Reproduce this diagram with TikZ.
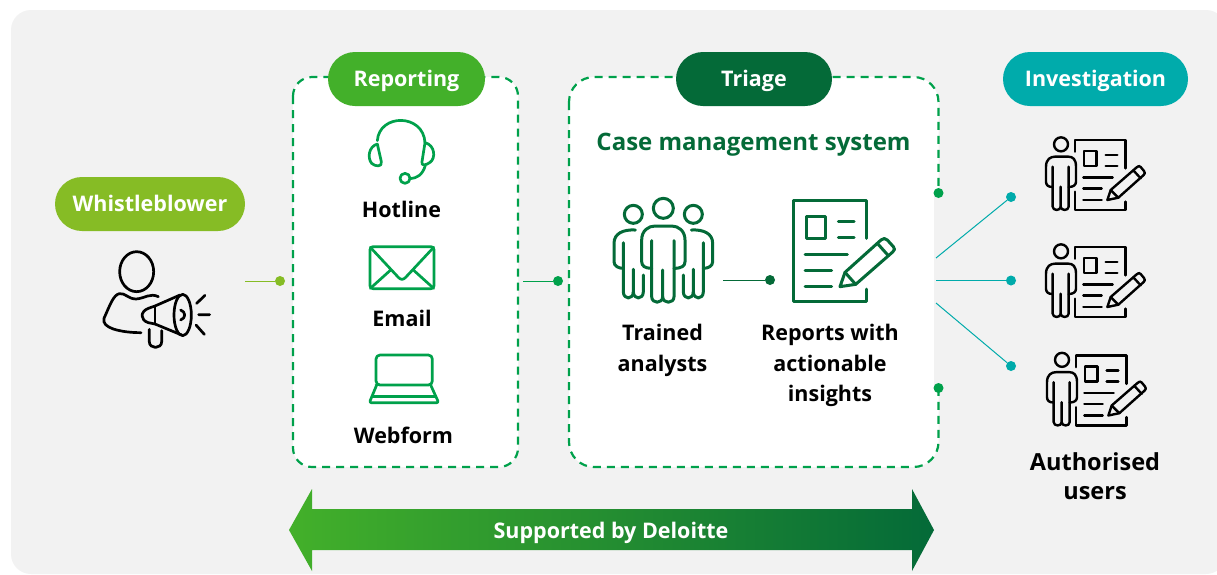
\documentclass[tikz,border=0pt]{standalone}
\usepackage{fontspec}
\setmainfont{Open Sans}
\usetikzlibrary{calc}
\definecolor{bggrey}{HTML}{F2F2F2}
\definecolor{lime}{HTML}{86BC25}
\definecolor{midgreen}{HTML}{43B02A}
\definecolor{darkgreen}{HTML}{046A38}
\definecolor{dashgreen}{HTML}{00A14B}
\definecolor{tealc}{HTML}{00ABAB}
\tikzset{
 x=1pt,y=-1pt,
 pill/.style={draw=none,rounded corners=27pt,minimum height=54pt,inner sep=0pt,text=white,text height=18pt,text depth=4pt,font=\fontsize{21.5}{25}\selectfont\bfseries},
 label/.style={inner sep=0pt,align=center,text=black,font=\fontsize{21.5}{30.5}\selectfont\bfseries},
 panel/.style={draw=dashgreen,fill=white,line width=2.2pt,dash pattern=on 8pt off 6pt},
 dotn/.style={circle,inner sep=0pt,minimum size=10pt,fill=#1,draw=none},
 wire/.style={draw=#1,line width=1pt},
 ico/.style={line width=#1,line cap=round,line join=round},
 zoomed/.style={x=0.33333pt,y=-0.33333pt},
}
% small user + document icon, zoom coordinates
\newcommand{\userdoc}[2]{%
\begin{scope}[shift={(#1,#2)},zoomed,draw=black,ico=2.4pt]
 \draw (423,58) circle[radius=21];
 \draw (398,125)--(398,245) .. controls (398,258) and (422,258) .. (422,245)--(422,185);
 \draw (422,245) .. controls (422,258) and (446,258) .. (446,245)--(446,125);
 \draw (398,186) .. controls (384,186) and (378,180) .. (378,170)--(378,125) .. controls (378,102) and (392,95) .. (405,95)--(445,95) .. controls (458,95) and (468,102) .. (468,125)--(468,170) .. controls (468,180) and (460,186) .. (446,186);
 \draw (465,80)--(465,45)--(617,45)--(617,130);
 \draw (617,230)--(617,255)--(465,255)--(465,200);
 \draw (492,78) rectangle (530,123);
 \draw (557,90)--(592,90) (557,123)--(592,123) (490,157)--(578,157) (490,190)--(545,190) (490,225)--(545,225);
 \draw (562,225)--(572,195)--(650,127) .. controls (656,122) and (658,122) .. (662,126)--(672,138) .. controls (676,143) and (675,146) .. (671,150)--(595,218)--cycle;
 \draw (572,195)--(595,218) (640,136)--(662,160);
\end{scope}}
\begin{document}
\begin{tikzpicture}
\useasboundingbox (0,0) rectangle (1217,574);
\fill[white] (0,0) rectangle (1217,574);
\begin{scope}
\clip (0,0) rectangle (1217,574);
\fill[bggrey,rounded corners=20pt] (11,10) rectangle (1226,574);
\end{scope}

% panels
\draw[panel,rounded corners=19pt] (293,77) rectangle (518,467);
\draw[panel,rounded corners=25pt] (569,77) rectangle (938.5,467);
\fill[bggrey,rounded corners=4pt] (934,191) rectangle (950,389);

% pills
\node[pill,fill=lime,minimum width=190pt] (whistle) at (150,204) {Whistleblower};
\node[pill,fill=midgreen,minimum width=157pt] (reporting) at (406.5,79) {Reporting};
\node[pill,fill=darkgreen,minimum width=156pt] (triage) at (754,79) {Triage};
\node[pill,fill=tealc,minimum width=185pt] (invest) at (1095.5,79) {Investigation};

% labels
\node[label] (hotline) at (401.5,209.5) {Hotline};
\node[label] (email) at (402,318.5) {Email};
\node[label] (webform) at (403.5,435.5) {Webform};
\node[label,text=darkgreen,font=\fontsize{24}{30}\selectfont\bfseries] (cms) at (753.5,145) {Case management system};
\node[label] (analysts) at (662.5,350.5) {Trained\\analysts};
\node[label] (reports) at (830,365.5) {Reports with\\actionable\\insights};
\node[label,font=\fontsize{23.5}{29.5}\selectfont\bfseries] (users) at (1095,476) {Authorised\\users};

% whistleblower icon
\begin{scope}[shift={(60,170)},zoomed,draw=black,ico=2.7pt]
 \draw (230,305) ellipse[x radius=51,y radius=60];
 \draw (295,380) .. controls (270,368) and (255,385) .. (228,387) .. controls (205,387) and (195,368) .. (178,371) .. controls (160,375) and (150,405) .. (132,445) .. controls (128,460) and (140,470) .. (160,477) .. controls (185,485) and (215,488) .. (243,488);
 \draw (268,478)--(268,515) .. controls (268,538) and (305,538) .. (305,515)--(305,482);
 \draw (285,408)--(285,462);
 \draw (360,375)--(285,408)--(265,415) .. controls (240,425) and (240,450) .. (265,458)--(285,462)--(365,495);
 \draw (368,435) ellipse[x radius=26,y radius=62];
 \draw (362,420) .. controls (378,425) and (378,445) .. (362,450);
 \draw (410,400)--(435,376) (416,434)--(449,434) (408,465)--(433,493);
\end{scope}

% headset
\begin{scope}[shift={(290,50)},zoomed,draw=dashgreen,ico=2.7pt]
 \draw (262,272) .. controls (268,190) and (400,190) .. (405,278);
 \draw (262,282) .. controls (235,290) and (232,325) .. (245,340) .. controls (255,350) and (278,352) .. (274,335)--cycle;
 \draw (405,278) .. controls (435,285) and (438,325) .. (420,337) .. controls (410,345) and (392,350) .. (396,335)--cycle;
 \draw (406,346) .. controls (398,375) and (380,385) .. (360,386);
 \draw (345,385) circle[radius=15];
\end{scope}
% envelope
\begin{scope}[shift={(290,50)},zoomed,draw=dashgreen,ico=2.7pt]
 \draw[rounded corners=3pt] (240,590) rectangle (432,716);
 \draw (241,592)--(325,682) .. controls (332,690) and (340,690) .. (347,682)--(431,592);
 \draw (241,715)--(302,660) (431,715)--(370,660);
\end{scope}
% laptop
\begin{scope}[shift={(290,270)},zoomed,draw=dashgreen,ico=2.7pt]
 \draw[rounded corners=4pt] (258,255) rectangle (427,345);
 \draw (258,345)--(422,345);
 \draw[rounded corners=2pt] (260,345)--(238,398)--(446,398)--(422,345);
 \draw (247,380)--(437,380);
\end{scope}

% analysts
\begin{scope}[shift={(600,190)},zoomed,draw=darkgreen,ico=3pt]
 \draw (100,73) circle[radius=27] (190,55) circle[radius=30] (280,73) circle[radius=27];
 % centre
 \draw (155,152)--(155,320) .. controls (155,342) and (188,342) .. (188,320)--(188,240);
 \draw (188,320) .. controls (188,342) and (222,342) .. (222,320)--(222,152);
 \draw (155,235) .. controls (135,235) and (125,228) .. (125,215)--(125,150) .. controls (125,122) and (145,108) .. (165,108)--(215,108) .. controls (235,108) and (255,122) .. (255,150)--(255,215) .. controls (255,228) and (245,235) .. (222,235);
 % left
 \draw (106,120) .. controls (70,118) and (42,130) .. (42,160)--(42,215) .. controls (42,228) and (55,235) .. (70,235);
 \draw (70,158)--(70,305) .. controls (70,330) and (100,330) .. (100,305)--(100,238);
 \draw (100,305) .. controls (100,330) and (130,330) .. (130,305)--(130,255);
 % right
 \draw (274,120) .. controls (310,118) and (338,130) .. (338,160)--(338,215) .. controls (338,228) and (325,235) .. (310,235);
 \draw (310,158)--(310,305) .. controls (310,330) and (280,330) .. (280,305)--(280,238);
 \draw (280,305) .. controls (280,330) and (250,330) .. (250,305)--(250,255);
\end{scope}
% report icon
\begin{scope}[shift={(600,190)},zoomed,draw=darkgreen,ico=3pt]
 \draw (800,145)--(800,32)--(580,32)--(580,335)--(800,335)--(800,297);
 \draw (618,78) rectangle (675,145);
 \draw (715,95)--(762,95) (715,143)--(762,143) (615,192)--(742,192) (615,242)--(695,242) (615,290)--(695,290);
 \draw (720,290)--(735,247)--(843,150) .. controls (850,144) and (856,144) .. (862,150)--(880,170) .. controls (885,176) and (885,180) .. (878,186)--(767,283)--cycle;
 \draw (735,247)--(767,283) (832,160)--(865,197);
\end{scope}

% authorised users
\userdoc{920}{125}
\userdoc{920}{232}
\userdoc{921}{340.5}

% connectors
\node[dotn=lime] (d1) at (280,281) {};
\coordinate (c1) at (245,281);
\draw[wire=lime] (c1)--(d1);
\node[dotn=dashgreen] (d2) at (558,281) {};
\coordinate (c2) at (523,281);
\draw[wire=dashgreen] (c2)--(d2);
\node[dotn=darkgreen] (d3) at (770,280) {};
\coordinate (c3) at (723,280);
\draw[wire=darkgreen] (c3)--(d3);
\node[dotn=dashgreen] (g1) at (938.5,193) {};
\node[dotn=dashgreen] (g2) at (938.5,388) {};
\node[dotn=tealc] (t1) at (1011,197) {};
\node[dotn=tealc] (t2) at (1011,280.5) {};
\node[dotn=tealc] (t3) at (1011,366) {};
\coordinate (s1) at (936,258);
\coordinate (s2) at (936,280.5);
\coordinate (s3) at (936,303);
\draw[wire=tealc] (s1)--(t1);
\draw[wire=tealc] (s2)--(t2);
\draw[wire=tealc] (s3)--(t3);

% double arrow
\shade[left color=midgreen,right color=darkgreen,shading=axis,shading angle=90]
 (289,530)--(312,489)--(312,509)--(912,509)--(912,489)--(934,530)--(912,571)--(912,550)--(312,550)--(312,571)--cycle;
\node[label,text=white,font=\fontsize{21.5}{25}\selectfont\bfseries] (support) at (611,532.5) {Supported by Deloitte};
\end{tikzpicture}
\end{document}
